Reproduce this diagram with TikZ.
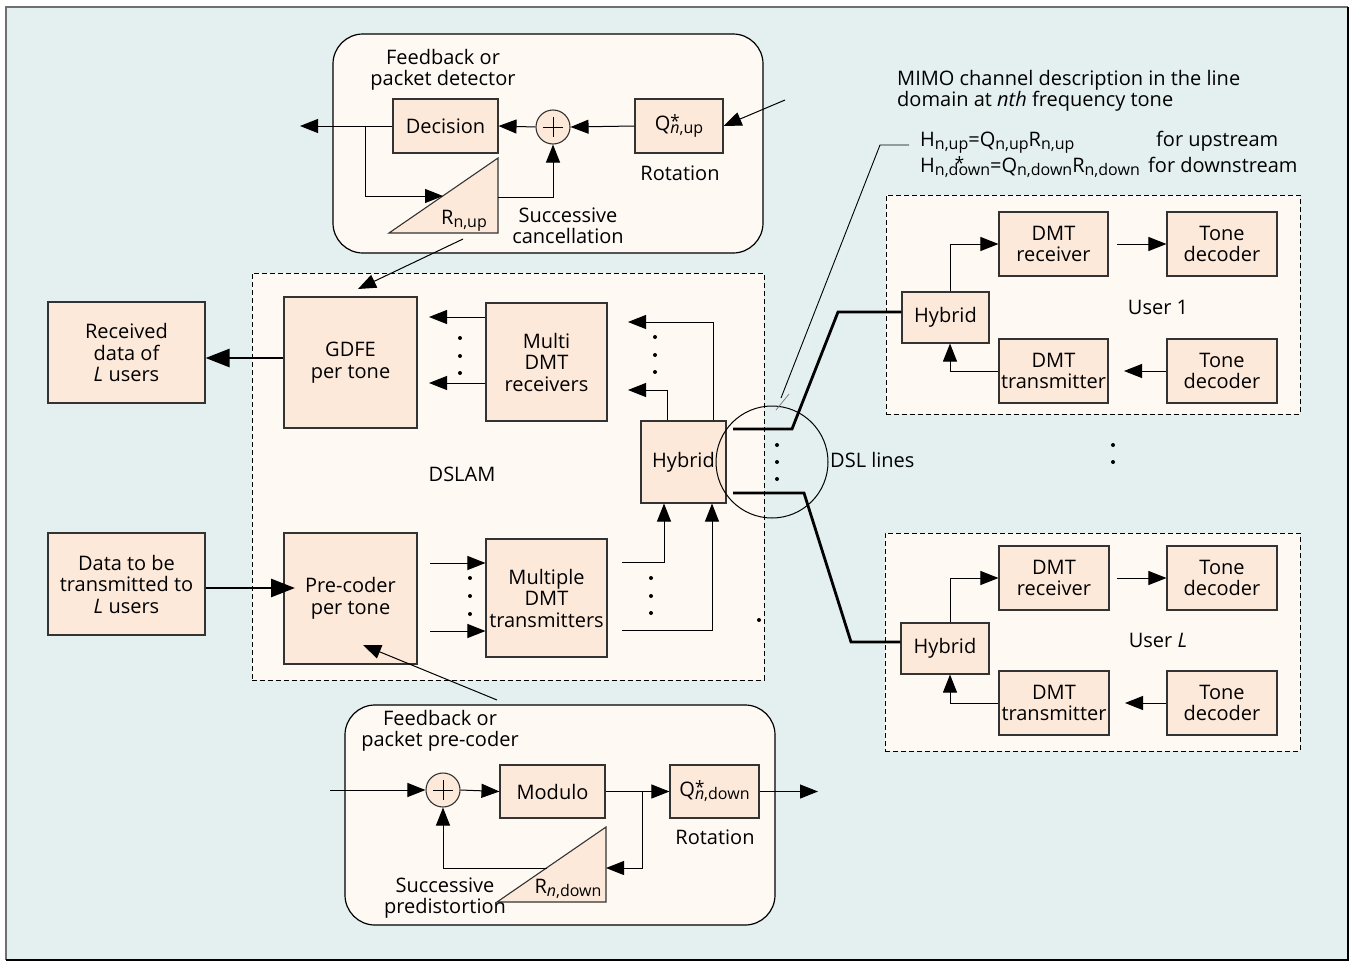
\documentclass[tikz,border=0pt]{standalone}
\usepackage{fontspec}
\setmainfont{Open Sans}
\usetikzlibrary{arrows.meta,calc}
\definecolor{bgc}{RGB}{228,240,240}
\definecolor{creamc}{RGB}{254,249,243}
\definecolor{peachc}{RGB}{253,233,218}
\definecolor{framegray}{RGB}{112,112,112}
\newcommand{\sbs}[1]{\raisebox{-3.5pt}{\fontsize{16}{16}\selectfont #1}}
\newcommand{\supsub}[2]{\rlap{\raisebox{2.5pt}{\fontsize{17}{17}\selectfont #1}}\sbs{#2}}
\begin{document}
\begin{tikzpicture}[x=1pt,y=-1pt,
  txt/.style={font=\fontsize{20}{21.5}\selectfont, inner sep=0pt, align=center},
  blk/.style={draw=black!80, line width=1.1pt, fill=peachc, txt},
  arr/.style={-{Triangle[length=18pt,width=14pt]}, line width=1pt},
  tarr/.style={-{Triangle[length=24pt,width=18pt]}, line width=2.8pt},
  thk/.style={line width=2.8pt},
  dsh/.style={draw=black, line width=1pt, dash pattern=on 5pt off 3pt, fill=creamc, inner sep=0pt},
  rnd/.style={draw=black, line width=1.2pt, rounded corners=30pt, fill=creamc, inner sep=0pt},
  sumc/.style={circle, draw=black!80, line width=1.1pt, fill=peachc, minimum size=34pt, inner sep=0pt},
  dotc/.style={circle, fill=black, inner sep=0pt, minimum size=4pt},
  tri/.style={draw=black!80, line width=1.1pt, fill=peachc}
]
\useasboundingbox (0,0) rectangle (1351,961);
% frame
\fill[bgc] (6,7) rectangle (1348,960);
\draw[framegray, line width=2pt] (6,960) -- (6,7) -- (1348,7);
\draw[black, line width=2pt] (1348,7) -- (1348,960) -- (6,960);

% containers
\node[rnd, minimum width=430pt, minimum height=219pt] (topbox) at (548,143.5) {};
\node[rnd, minimum width=430pt, minimum height=220pt] (botbox) at (560,815) {};
\node[dsh, minimum width=512pt, minimum height=407pt] (dslam) at (508,476.5) {};
\node[dsh, minimum width=414pt, minimum height=219pt] (user1) at (1093,304.5) {};
\node[dsh, minimum width=415pt, minimum height=218pt] (userL) at (1092.5,642) {};

% ---- top box (upstream detector)
\node[txt] (fbdet) at (443,70) {Feedback or\\packet detector};
\node[blk, minimum width=105pt, minimum height=54pt] (dec) at (445.5,126) {Decision};
\node[sumc] (sumup) at (553,127) {};
\draw[line width=1pt] ($(sumup.center)+(-10,0)$) -- ($(sumup.center)+(10,0)$);
\draw[line width=1pt] ($(sumup.center)+(0,-10)$) -- ($(sumup.center)+(0,10)$);
\node[blk, minimum width=88pt, minimum height=54pt] (qup) at (679,126) {Q\supsub{*}{\textit{n},up}};
\node[txt] (rotup) at (680,173) {Rotation};
\draw[tri] (389,233) -- (498,158) -- (498,233) -- cycle;
\node[txt] (rup) at (464,221) {R\sbs{n,up}};
\node[txt] (succ) at (568,226) {Successive\\cancellation};
\coordinate (inup) at (785,100);
\coordinate (outup) at (300,126);
\coordinate (brup) at (365,126);
\coordinate (tupin) at (443,196);
\coordinate (tupout) at (498,197);
\draw[arr] (inup) -- (qup.east);
\draw[arr] (qup.west) -- (sumup.east);
\draw[arr] (sumup.west) -- (dec.east);
\draw[arr] (dec.west) -- (outup);
\draw[arr] (brup) |- (tupin);
\draw[arr] (tupout) -| (sumup.south);

% ---- DSLAM
\node[blk, minimum width=157pt, minimum height=101pt] (recv) at (126.5,352.5) {Received\\data of\\\textit{L} users};
\node[blk, minimum width=157pt, minimum height=102pt] (datatx) at (126.5,584) {Data to be\\transmitted to\\\textit{L} users};
\node[blk, minimum width=133pt, minimum height=131pt] (gdfe) at (350.5,362.5) {GDFE\\per tone};
\node[blk, minimum width=121pt, minimum height=118pt] (mrx) at (546.5,362) {Multi\\DMT\\receivers};
\node[blk, minimum width=85pt, minimum height=82pt] (hyb) at (683.5,462) {Hybrid};
\node[blk, minimum width=133pt, minimum height=131pt] (prec) at (350.5,598.5) {Pre-coder\\per tone};
\node[blk, minimum width=121pt, minimum height=118pt] (mtx) at (546.5,598) {Multiple\\DMT\\transmitters};
\node[txt] (dslamlbl) at (462,474) {DSLAM};

\coordinate (r1) at (429,317);
\coordinate (r2) at (429,383);
\draw[arr] (mrx.west |- r1) -- (r1);
\draw[arr] (mrx.west |- r2) -- (r2);
\coordinate (h1) at (628,322);
\coordinate (h2) at (628,390);
\draw[arr] ([xshift=29.5pt]hyb.north) |- (h1);
\draw[arr] ([xshift=-16.5pt]hyb.north) |- (h2);
\coordinate (t1) at (622,562);
\coordinate (t2) at (622,630);
\draw[arr] (t1) -| ([xshift=-19.5pt]hyb.south);
\draw[arr] (t2) -| ([xshift=28.5pt]hyb.south);
\coordinate (p1) at (430,563);
\coordinate (p2) at (430,631);
\draw[arr] (p1) -- (mtx.west |- p1);
\draw[arr] (p2) -- (mtx.west |- p2);
\draw[tarr] (gdfe.west |- 0,358) -- (recv.east |- 0,358);
\coordinate (pin) at (295,588);
\draw[tarr] (datatx.east |- pin) -- (pin);
% dots
\foreach \yy in {338,356,373} \node[dotc] at (460,\yy) {};
\foreach \yy in {337,355,372} \node[dotc] at (655,\yy) {};
\foreach \yy in {578,596,613} \node[dotc] at (651,\yy) {};
\foreach \yy in {578,596,614} \node[dotc] at (470,\yy) {};
\node[dotc] (stray) at (759,620) {};

% feedback arrows between boxes
\coordinate (tupbot) at (463,239);
\coordinate (gdfein) at (358,289);
\draw[arr] (tupbot) -- (gdfein);
\coordinate (botfb) at (497,700);
\coordinate (precin) at (363,645);
\draw[arr] (botfb) -- (precin);

% ---- bottom box (precoder)
\node[txt] (fbpre) at (440,731) {Feedback or\\packet pre-coder};
\node[sumc] (sumdn) at (443,790) {};
\draw[line width=1pt] ($(sumdn.center)+(-10,0)$) -- ($(sumdn.center)+(10,0)$);
\draw[line width=1pt] ($(sumdn.center)+(0,-10)$) -- ($(sumdn.center)+(0,10)$);
\node[blk, minimum width=105pt, minimum height=53pt] (mod) at (552.5,791.5) {Modulo};
\node[blk, minimum width=89pt, minimum height=53pt] (qdn) at (714.5,791.5) {Q\supsub{*}{\textit{n},down}};
\node[txt] (rotdn) at (715,837) {Rotation};
\draw[tri] (497,902) -- (606,827) -- (606,902) -- cycle;
\node[txt] (rdn) at (568,889) {R\sbs{\textit{n},down}};
\node[txt] (spre) at (445,898) {Successive\\predistortion};
\coordinate (indn) at (330,790);
\coordinate (jdn) at (642,791.5);
\coordinate (outdn) at (818,791.5);
\coordinate (tdnin) at (606,868);
\coordinate (tdnout) at (547,868);
\draw[arr] (indn) -- (sumdn.west);
\draw[arr] (sumdn.east) -- (mod.west);
\draw (mod.east) -- (jdn);
\draw[arr] (jdn) -- (qdn.west);
\draw[arr] (qdn.east) -- (outdn);
\draw[arr] (jdn) |- (tdnin);
\draw[arr] (tdnout) -| (sumdn.south);

% ---- User 1
\node[blk, minimum width=109pt, minimum height=64pt] (u1rx) at (1053.5,244) {DMT\\receiver};
\node[blk, minimum width=110pt, minimum height=64pt] (u1td1) at (1222,244) {Tone\\decoder};
\node[blk, minimum width=87pt, minimum height=51pt] (u1hyb) at (945.5,317.5) {Hybrid};
\node[blk, minimum width=109pt, minimum height=64pt] (u1tx) at (1053.5,371) {DMT\\transmitter};
\node[blk, minimum width=110pt, minimum height=64pt] (u1td2) at (1222,371) {Tone\\decoder};
\node[txt] (u1lbl) at (1158,307) {User 1};
\coordinate (u1a) at (1117,244);
\coordinate (u1b) at (1124,371);
\draw[arr] ([xshift=4.5pt]u1hyb.north) |- (u1rx.west);
\draw[arr] (u1a) -- (u1td1.west);
\draw[arr] (u1td2.west) -- (u1b);
\draw[arr] (u1tx.west) -| ([xshift=4.5pt]u1hyb.south);

% ---- User L
\node[blk, minimum width=110pt, minimum height=64pt] (uLrx) at (1054,578) {DMT\\receiver};
\node[blk, minimum width=110pt, minimum height=64pt] (uLtd1) at (1222,578) {Tone\\decoder};
\node[blk, minimum width=88pt, minimum height=51pt] (uLhyb) at (945,648.5) {Hybrid};
\node[blk, minimum width=110pt, minimum height=64pt] (uLtx) at (1054,703) {DMT\\transmitter};
\node[blk, minimum width=110pt, minimum height=64pt] (uLtd2) at (1222,703) {Tone\\decoder};
\node[txt] (uLlbl) at (1158,640) {User \textit{L}};
\coordinate (uLa) at (1117,578);
\coordinate (uLb) at (1125,703);
\draw[arr] ([xshift=5pt]uLhyb.north) |- (uLrx.west);
\draw[arr] (uLa) -- (uLtd1.west);
\draw[arr] (uLtd2.west) -- (uLb);
\draw[arr] (uLtx.west) -| ([xshift=5pt]uLhyb.south);

\node[dotc] (ud1) at (1113,445) {};
\node[dotc] (ud2) at (1113,462) {};

% ---- DSL lines
\node[circle, draw=black, line width=1pt, minimum size=112pt, inner sep=0pt] (dslc) at (772,462) {};
\foreach \yy in {445,462,479} \node[dotc] at (777,\yy) {};
\node[txt, anchor=west] (dsllbl) at (830,460) {DSL lines};
\coordinate (l1a) at (733,429);
\coordinate (l1b) at (792,429);
\coordinate (l1c) at (838,312);
\draw[thk] (l1a) -- (l1b) -- (l1c) -- (u1hyb.west |- l1c);
\coordinate (l2a) at (733,493);
\coordinate (l2b) at (804,493);
\coordinate (l2c) at (851,642);
\draw[thk] (l2a) -- (l2b) -- (l2c) -- (uLhyb.west |- l2c);

% ---- MIMO description
\node[txt, anchor=west, align=left] (mimo) at (897,91) {MIMO channel description in the line\\domain at \textit{nth} frequency tone};
\node[txt, anchor=base west] (eq1) at (920,146) {H\sbs{n,up}=Q\sbs{n,up}R\sbs{n,up}};
\node[txt, anchor=base west] (eq2) at (920,172) {H\supsub{\hspace{20pt}*}{n,down}=Q\sbs{n,down}R\sbs{n,down}};
\node[txt, anchor=base west] (forup) at (1156,146) {for upstream};
\node[txt, anchor=base west] (fordn) at (1148,172) {for downstream};
\coordinate (m1) at (909,145);
\coordinate (m2) at (880,145);
\coordinate (m3) at (781,398);
\draw[line width=0.9pt] (m1) -- (m2) -- (m3);
\coordinate (m4) at (789,394);
\coordinate (m5) at (776,410);
\draw[gray, line width=0.8pt] (m4) -- (m5);
\end{tikzpicture}
\end{document}
